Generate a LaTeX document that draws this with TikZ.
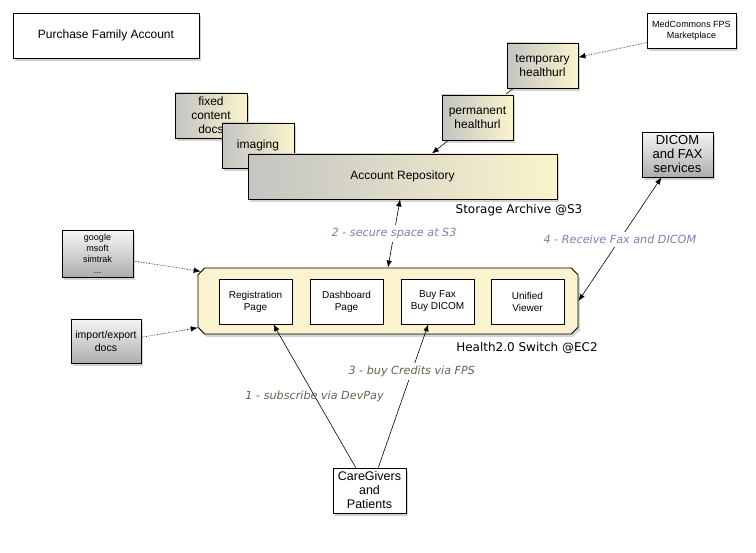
\documentclass[tikz,border=0pt]{standalone}
\usepackage{fontspec}
\setmainfont{Liberation Sans}
\newfontfamily\verdana{DejaVu Sans}
\definecolor{BoxGrey}    {RGB}{196,196,194}
\definecolor{BoxCream}   {RGB}{250,244,204}
\definecolor{SwitchCream}{RGB}{250,243,206}
\definecolor{NoteBlue}   {RGB}{122,128,180}
\definecolor{NoteBrown}  {RGB}{108,94,80}
\usetikzlibrary{arrows.meta,shapes.misc,shadows,backgrounds}

\begin{document}
\begin{tikzpicture}[x=1pt,y=-1pt,
  every node/.style={align=center,font=\fontsize{12}{14}\selectfont},
  shade/.style={drop shadow={opacity=0.35,shadow xshift=2pt,shadow yshift=-3pt}},
  cream/.style={draw,line width=0.9pt,left color=BoxGrey,right color=BoxCream,shade},
  plain/.style={draw,line width=0.9pt,fill=white,shade},
  steel/.style={draw,line width=0.9pt,top color=black!4,bottom color=black!32,shade},
  page/.style={draw,line width=0.8pt,fill=white,minimum width=73,minimum height=45,
               font=\fontsize{10}{12}\selectfont},
  tag/.style={font=\verdana\fontsize{12}{14}\selectfont},
  note/.style={font=\verdana\itshape\fontsize{11.2}{13}\selectfont},
  link/.style={-{Latex[length=7pt,width=5.5pt]},line width=0.6pt},
  both/.style={{Latex[length=7pt,width=5.5pt]}-{Latex[length=7pt,width=5.5pt]},line width=0.6pt},
  feed/.style={link,densely dotted}]
  \useasboundingbox (0,0) rectangle (756,553);
  %% Top left
  \node[plain,minimum width=186,minimum height=45] (account) at (106,35.5)
    {Purchase Family Account};
  %% Storage archive
  \node[cream,minimum width=72,minimum height=45] (fixed) at (211,115.5)
    {fixed\\content\\docs};
  \node[cream,minimum width=72,minimum height=45] (imaging) at (258,145.5) {imaging};
  \node[cream,minimum width=309,minimum height=45] (repo) at (402.5,176.5)
    {Account Repository};
  \node[tag] (s3) at (519,210) {Storage Archive @S3};
  \node[cream,minimum width=71,minimum height=45] (temp) at (542.5,65.5)
    {temporary\\healthurl};
  \node[cream,minimum width=71,minimum height=45] (perm) at (477.5,117.5)
    {permanent\\healthurl};
  \node[plain,minimum width=89,minimum height=35,
        font=\fontsize{9}{11}\selectfont] (fps) at (691.5,30.5)
    {MedCommons FPS\\Marketplace};
  \node[steel,minimum width=71,minimum height=45,
        font=\fontsize{13}{14}\selectfont] (dicom) at (677.5,154.5)
    {DICOM\\and FAX\\services};
  %% Sources on the left
  \node[steel,minimum width=71,minimum height=44,
        font=\fontsize{9}{11}\selectfont] (google) at (97.5,254)
    {google\\msoft\\simtrak\\...};
  \node[steel,minimum width=70,minimum height=44,
        font=\fontsize{10.5}{13}\selectfont] (impexp) at (106,341)
    {import/export\\docs};
  %% Switch
  \node[chamfered rectangle,chamfered rectangle xsep=7pt,chamfered rectangle ysep=7pt,
        draw,line width=0.9pt,fill=SwitchCream,shade,
        minimum width=380,minimum height=66] (switch) at (388,301) {};
  \foreach \n/\x/\t in {
      reg/255.5/{Registration\\Page},
      dash/346.5/{Dashboard\\Page},
      buy/437.5/{Buy Fax\\Buy DICOM},
      viewer/527.5/{Unified\\Viewer}}{
    \node[page] (\n) at (\x,301.5) {\t};
  }
  \node[tag] (ec2) at (527,348) {Health2.0 Switch @EC2};
  %% Users
  \node[plain,minimum width=73,minimum height=45,
        font=\fontsize{12.5}{14}\selectfont] (care) at (369.5,490.5)
    {CareGivers\\and\\Patients};
  %% Connectors
  \begin{scope}[on background layer]
    \draw[link] (temp.218) -- (repo.38);
  \end{scope}
  \draw[feed] (fps.195) -- (temp.13);
  \draw[feed] (google.-11) -- (switch.171);
  \draw[feed] (impexp.6) -- (switch.188);
  \draw[both] (switch.north) -- node[note,fill=white,text=NoteBlue]
    {2 - secure space at S3} (repo.264);
  \draw[both] (switch.east) -- node[note,fill=white,text=NoteBlue]
    {4 - Receive Fax and DICOM} (dicom.235);
  \draw[link] (care.121) -- node[note,text=NoteBrown]
    {1 - subscribe via DevPay} (reg.308);
  \draw[link] (care.69) -- node[note,pos=0.67,fill=white,text=NoteBrown]
    {3 - buy Credits via FPS} (buy.248);
\end{tikzpicture}
\end{document}
